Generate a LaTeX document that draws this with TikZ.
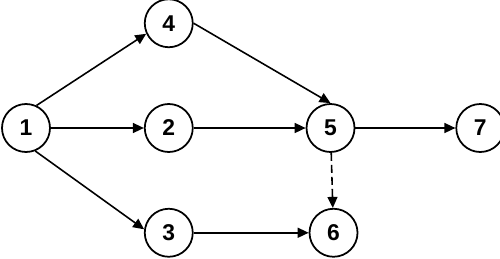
\documentclass[tikz,border=0pt]{standalone}
\usepackage{fontspec}
\setsansfont{Liberation Sans}
\usetikzlibrary{arrows.meta,positioning}
\tikzset{
  font=\sffamily,
  evt/.style={circle, draw=black, line width=1pt, fill=white, minimum size=9.6mm, inner sep=0pt, font=\sffamily\bfseries\fontsize{13}{15}\selectfont},
  act/.style={-{Triangle[length=2.2mm, width=2mm]}, line width=0.9pt, draw=black},
  dummy/.style={act, dash pattern=on 1.6mm off 0.8mm},
}

\begin{document}
\begin{tikzpicture}[node distance=11mm]
\useasboundingbox (0,0) rectangle (10,5.16);
\node[evt] (n1) at (0.52,2.60) {1};
\node[evt, right=18.6mm of n1] (n2) {2};
\node[evt, above=of n2] (n4) {4};
\node[evt, below=of n2] (n3) {3};
\node[evt, right=22.4mm of n2] (n5) {5};
\node[evt, right=20mm of n5] (n7) {7};
\node[evt, below=of n5, xshift=0.6mm] (n6) {6};
\draw[act] (n1.65) -- (n4.205);
\draw[act] (n1) -- (n2);
\draw[act] (n1.-68) -- (n3.172);
\draw[act] (n4.east) -- (n5.north);
\draw[act] (n2) -- (n5);
\draw[act] (n3) -- (n6);
\draw[act] (n5) -- (n7);
\draw[dummy] (n5) -- (n6);
\end{tikzpicture}
\end{document}
